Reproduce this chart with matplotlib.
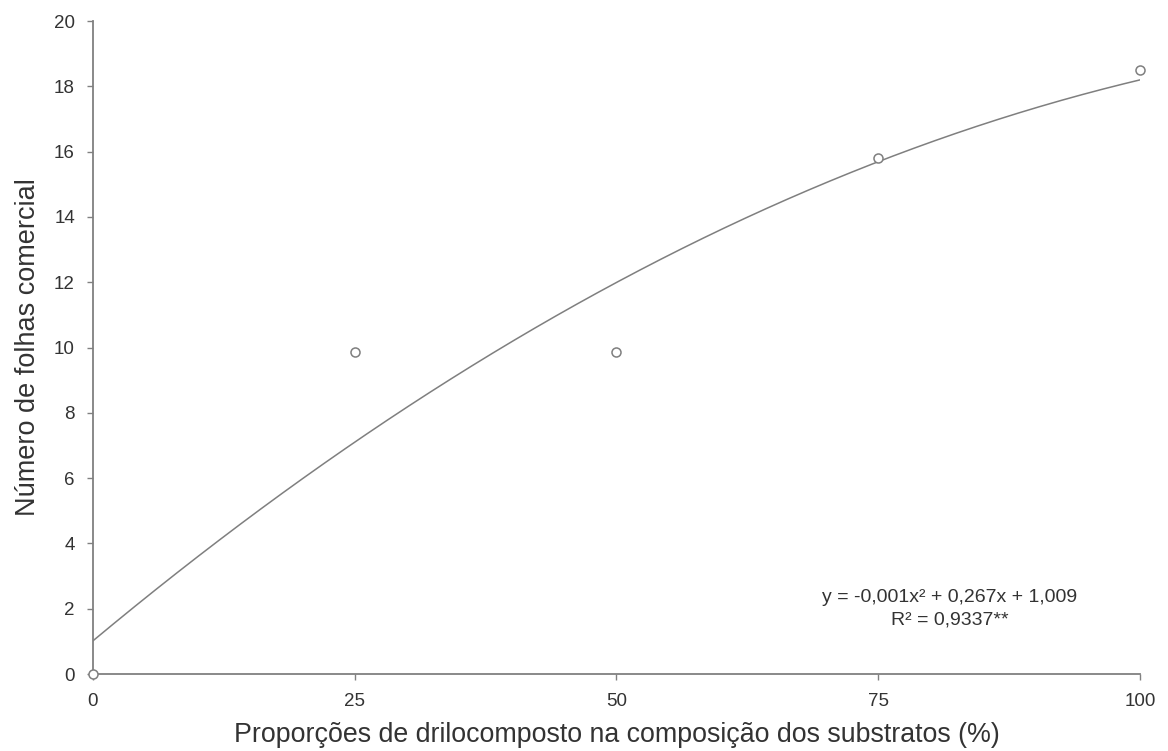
import numpy as np
import matplotlib
matplotlib.use("Agg")
import matplotlib.pyplot as plt

plt.rcParams['font.family'] = ['Liberation Sans', 'DejaVu Sans']

# Observed means
proporcoes = [0, 25, 50, 75, 100]
folhas = [0.0, 9.85, 9.85, 15.8, 18.5]

x_ticks = [0, 25, 50, 75, 100]
y_ticks = [0, 2, 4, 6, 8, 10, 12, 14, 16, 18, 20]

equacao = "y = -0,001x² + 0,267x + 1,009"
r2 = "R² = 0,9337**"

txt = '#333333'
grey = '#808080'

fig = plt.figure(figsize=(11.68, 7.51), dpi=100)
ax = fig.add_axes([0.0796, 0.1025, 0.8964, 0.8695])

# quadratic trend line fitted to the means
coef = np.polyfit(proporcoes, folhas, 2)
xs = np.linspace(0, 100, 200)
ax.plot(xs, np.polyval(coef, xs), color='#7f7f7f', lw=1.1)

ax.plot(proporcoes, folhas, 'o', ms=6.5, mfc='white', mec='#7f7f7f', mew=1.1,
        clip_on=False, zorder=3)

ax.set_xlim(0, 100)
ax.set_ylim(0, 20)
ax.set_xticks(x_ticks)
ax.set_yticks(y_ticks)

for s in ['top', 'right']:
    ax.spines[s].set_visible(False)
for s in ['left', 'bottom']:
    ax.spines[s].set_color(grey)
    ax.spines[s].set_linewidth(1.3)
ax.tick_params(colors=grey, labelcolor=txt, labelsize=13.5, length=4, width=1)
ax.tick_params(axis='y', pad=9)
ax.tick_params(axis='x', pad=10)

ax.set_xlabel("Proporções de drilocomposto na composição dos substratos (%)",
              fontsize=19.3, color=txt, labelpad=8)
ax.set_ylabel("Número de folhas comercial", fontsize=19.5, color=txt, labelpad=9)

ax.text(81.85, 2.33, equacao, ha='center', va='center', fontsize=14, color=txt)
ax.text(81.85, 1.65, r2, ha='center', va='center', fontsize=14, color=txt)

fig.savefig("out.png", dpi=100)
